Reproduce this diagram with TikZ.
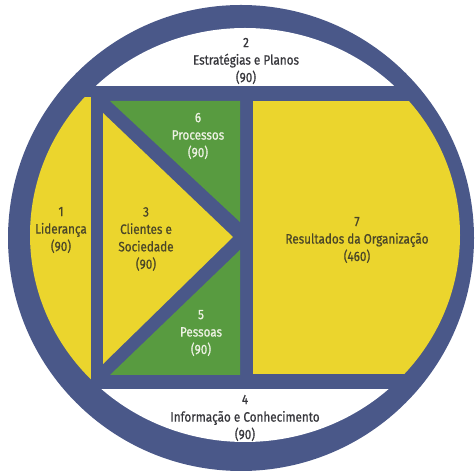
\documentclass[tikz,border=0pt]{standalone}
\usepackage{fontspec}
\setmainfont{Fira Sans}[FakeStretch=0.86, FakeBold=0.7]
\definecolor{ringblue}{RGB}{74,88,137}
\definecolor{fillyellow}{RGB}{235,213,45}
\definecolor{fillgreen}{RGB}{88,155,64}
\definecolor{txtyellow}{RGB}{74,70,40}
\definecolor{txtwhite}{RGB}{55,55,60}
\definecolor{txtgreen}{RGB}{238,242,228}
\tikzset{
  lbl/.style={align=center, inner sep=0pt, font=\fontsize{10.2}{13.1}\selectfont},
  onyellow/.style={lbl, text=txtyellow},
  onwhite/.style={lbl, text=txtwhite},
  ongreen/.style={lbl, text=txtgreen},
}
\begin{document}
\begin{tikzpicture}[x=0.75pt, y=-0.75pt]
  \useasboundingbox (0,0) rectangle (475,473);
  % outer ring: dark disk, everything else sits on top of it
  \fill[ringblue] (241,238) circle (233);
  \begin{scope}
    \clip (245,235) ellipse (215 and 207);
    % 2 and 4: white caps
    \fill[white] (0,0) rectangle (475,86);
    \fill[white] (0,389) rectangle (475,473);
    % 1: leadership strip
    \fill[fillyellow] (0,97) rectangle (91,382);
    % 7: results
    \fill[fillyellow] (253,101) rectangle (475,374);
  \end{scope}
  % 3: triangle
  \fill[fillyellow] (103,113) -- (233,237) -- (103,364) -- cycle;
  % 6 and 5: green triangles
  \fill[fillgreen] (110,101) -- (240,101) -- (240,222) -- cycle;
  \fill[fillgreen] (110,375) -- (240,250) -- (240,375) -- cycle;

  \node[onwhite]  (c2) at (246,61)  {2\\Estratégias e Planos\\(90)};
  \node[onwhite]  (c4) at (245,418) {4\\Informação e Conhecimento\\(90)};
  \node[onyellow] (c1) at (61,230)  {1\\Liderança\\(90)};
  \node[onyellow] (c3) at (146,239) {3\\Clientes e\\Sociedade\\(90)};
  \node[ongreen]  (c6) at (198,136) {6\\Processos\\(90)};
  \node[ongreen]  (c5) at (201,333) {5\\Pessoas\\(90)};
  \node[onyellow] (c7) at (357,240) {7\\Resultados da Organização\\(460)};
\end{tikzpicture}
\end{document}
